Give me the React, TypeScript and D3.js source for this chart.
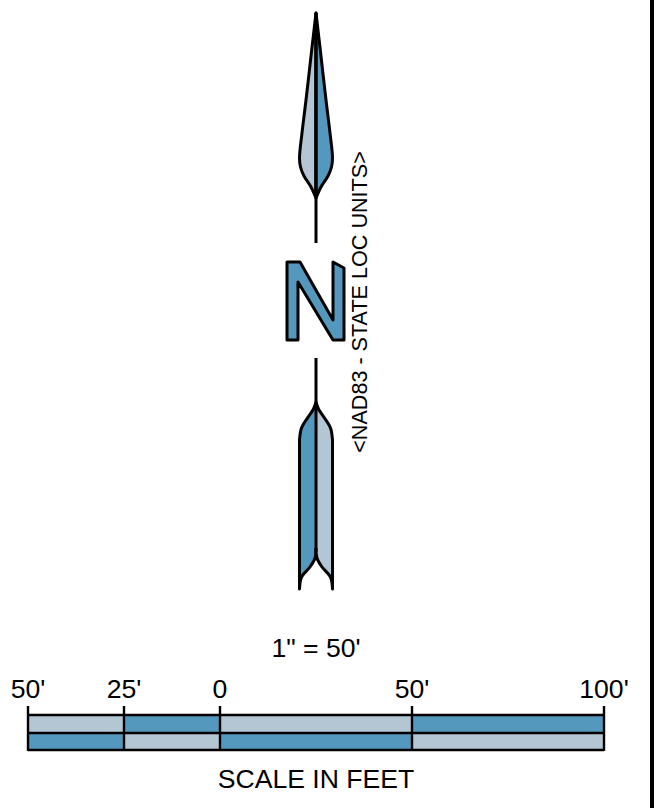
import React from "react";
import * as d3 from "d3";

const BLUE = "#5499bd";
const GREY = "#b4c5d3";
const INK = "#000";
const FONT = "'Liberation Sans', Arial, sans-serif";

type P = [number, number];

const scaleTicks = [-50, -25, 0, 50, 100];
const scaleLabels = ["50'", "25'", "0", "50'", "100'"];
const topRowFill = [GREY, BLUE, GREY, BLUE];
const bottomRowFill = [BLUE, GREY, BLUE, GREY];

const upperLeftBlade: P[] = [[316, 13], [311.7, 50], [306, 100], [302, 133], [299.5, 158], [300.5, 167], [304, 176], [311, 187], [316, 198]];
const lowerLeftFin: P[] = [[316, 402], [313.5, 409], [307.5, 418], [301.5, 428], [299.5, 440]];
const lowerLeftNotch: P[] = [[299.5, 589], [301.5, 577], [310, 567], [315, 558], [316, 548]];
const northLetter: P[] = [[287, 262], [300, 262], [333, 320], [333, 262], [344, 268], [344, 340], [333, 340], [298, 282], [298, 340], [287, 340]];

const AXIS = 316;
const mirror = (pts: P[]): P[] => pts.map(([x, y]) => [2 * AXIS - x, y]);

const x = d3.scaleLinear().domain([-50, 100]).range([28, 604]);
const smooth = d3.line<P>().curve(d3.curveCatmullRom.alpha(0.5));
const straight = d3.line<P>();

export default function App() {
  const upperL = smooth(upperLeftBlade)!;
  const upperR = smooth(mirror(upperLeftBlade))!;
  const finL = smooth(lowerLeftFin)!;
  const finR = smooth(mirror(lowerLeftFin))!;
  const notchL = smooth(lowerLeftNotch)!;
  const notchR = smooth(mirror(lowerLeftNotch))!;
  const lowerShape = (fin: string, notch: string) => `${fin}L${notch.slice(1)}`;
  const segs = d3.pairs(scaleTicks);
  return (
    <svg width={657} height={808} style={{ position: "absolute", left: 0, top: 0, background: "#fff" }}>
      <rect x={650} y={0} width={4} height={808} fill={INK} />

      <g stroke={INK} strokeWidth={3} strokeLinejoin="round" fill="none">
        <path d={`${upperL}Z`} fill={GREY} />
        <path d={`${upperR}Z`} fill={BLUE} />
        <line x1={AXIS} x2={AXIS} y1={13} y2={243} />
        <path d={lowerShape(finL, notchL)} fill={BLUE} />
        <path d={lowerShape(finR, notchR)} fill={GREY} />
        <line x1={AXIS} x2={AXIS} y1={358} y2={552} />
        <path d={straight(northLetter) + "Z"} fill={BLUE} />
      </g>

      <text transform="translate(367,302) rotate(-90)" textAnchor="middle" fontFamily={FONT} fontSize={21.6} fill={INK}>
        {"<NAD83 - STATE LOC UNITS>"}
      </text>

      <text x={316} y={657} textAnchor="middle" fontFamily={FONT} fontSize={26.6} fill={INK}>{'1" = 50\''}</text>

      {segs.map(([a, b], i) => (
        <g key={i}>
          <rect x={x(a)} y={715} width={x(b) - x(a)} height={18} fill={topRowFill[i]} />
          <rect x={x(a)} y={733} width={x(b) - x(a)} height={17} fill={bottomRowFill[i]} />
        </g>
      ))}
      <g stroke={INK} strokeWidth={2.4}>
        {[715, 733, 750].map((y) => (
          <line key={y} x1={x(-50)} x2={x(100)} y1={y} y2={y} />
        ))}
        {scaleTicks.map((t) => (
          <line key={t} x1={x(t)} x2={x(t)} y1={706} y2={751} />
        ))}
      </g>
      {scaleTicks.map((t, i) => (
        <text key={t} x={x(t)} y={698} textAnchor="middle" fontFamily={FONT} fontSize={26.6} fill={INK}>
          {scaleLabels[i]}
        </text>
      ))}
      <text x={316} y={788} textAnchor="middle" fontFamily={FONT} fontSize={26.6} fill={INK}>SCALE IN FEET</text>
    </svg>
  );
}
